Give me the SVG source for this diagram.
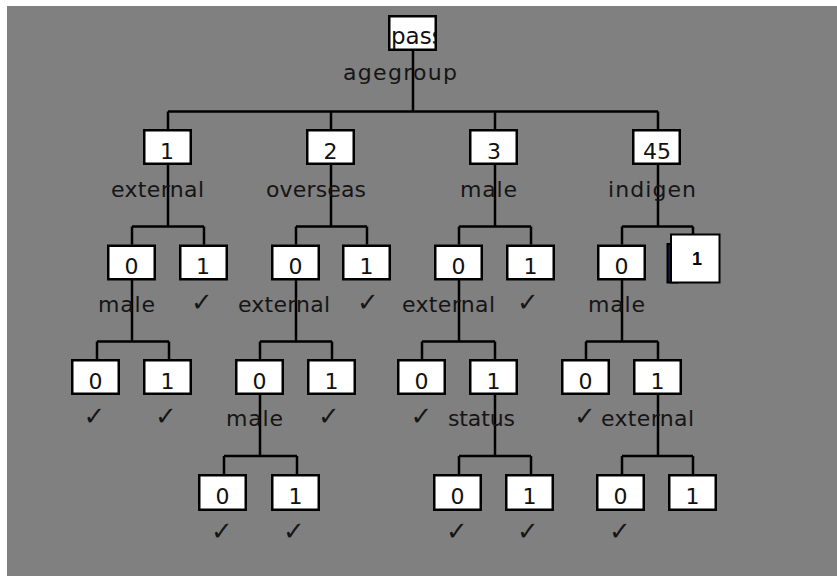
<svg xmlns="http://www.w3.org/2000/svg" width="837" height="576" viewBox="0 0 837 576">
<style>
.box{fill:#fff;stroke:#000;stroke-width:2.5}
.num{font-family:"DejaVu Sans",sans-serif;font-size:22px;fill:#111;text-anchor:middle}
.lbl{font-family:"DejaVu Sans",sans-serif;font-size:22px;fill:#151515}
.chk{font-family:"DejaVu Sans",sans-serif;font-size:26px;fill:#151515;text-anchor:middle}
.con{fill:none;stroke:#000;stroke-width:2.5}
</style>
<defs>
<clipPath id="rootclip"><rect x="389" y="16" width="46.5" height="33.5"/></clipPath>
</defs>
<rect width="837" height="576" fill="#fff"/>
<rect x="7" y="6" width="830" height="570" fill="#808080"/>
<g id="connectors" class="con">
<path d="M413 51V111.5M168 111.5H658M168 111.5V129M331 111.5V129M495 111.5V129M658 111.5V129"/>
<path d="M168 165V226.5M132 226.5H204M132 226.5V244.5M204 226.5V244.5"/>
<path d="M331 165V226.5M296 226.5H367M296 226.5V244.5M367 226.5V244.5"/>
<path d="M495 165V226.5M459 226.5H531M459 226.5V244.5M531 226.5V244.5"/>
<path d="M658 165V226.5M622 226.5H693M622 226.5V244.5M693 226.5V234"/>
<path d="M132 280V341.5M97 341.5H169M97 341.5V359M169 341.5V359"/>
<path d="M296 280V341.5M260 341.5H332M260 341.5V359M332 341.5V359"/>
<path d="M459 280V341.5M422 341.5H495M422 341.5V359M495 341.5V359"/>
<path d="M622 280V341.5M586 341.5H658M586 341.5V359M658 341.5V359"/>
<path d="M260 395V456M224 456H297M224 456V474M297 456V474"/>
<path d="M495 395V456M459 456H531M459 456V474M531 456V474"/>
<path d="M658 395V456M622 456H693M622 456V474M693 456V474"/>
</g>
<g id="n0"><rect class="box" x="389.25" y="16.25" width="46.5" height="33.5"/><text class="num" x="391" y="44" style="text-anchor:start;font-size:23px" clip-path="url(#rootclip)">pass</text><text class="lbl" x="343" y="80" textLength="114" lengthAdjust="spacing">agegroup</text></g>
<g id="n1"><rect class="box" x="144.25" y="130.25" width="46.5" height="33.5"/><text class="num" x="167" y="159">1</text><text class="lbl" x="111" y="197" textLength="93" lengthAdjust="spacing">external</text></g>
<g id="n2"><rect class="box" x="307.25" y="130.25" width="46.5" height="33.5"/><text class="num" x="330.5" y="159">2</text><text class="lbl" x="266" y="197" textLength="100" lengthAdjust="spacing">overseas</text></g>
<g id="n3"><rect class="box" x="470.25" y="130.25" width="46.5" height="33.5"/><text class="num" x="494" y="159">3</text><text class="lbl" x="460" y="197" textLength="57" lengthAdjust="spacing">male</text></g>
<g id="n4"><rect class="box" x="633.25" y="130.25" width="46.5" height="33.5"/><text class="num" x="657" y="159">45</text><text class="lbl" x="608" y="197" textLength="88" lengthAdjust="spacing">indigen</text></g>
<g id="n1_0"><rect class="box" x="108.25" y="245.75" width="46.5" height="33.5"/><text class="num" x="131.5" y="274">0</text><text class="lbl" x="98" y="312" textLength="57" lengthAdjust="spacing">male</text></g>
<g id="n1_1"><rect class="box" x="180.25" y="245.75" width="46.5" height="33.5"/><text class="num" x="203" y="274">1</text><text class="chk" x="202" y="311">✓</text></g>
<g id="n2_0"><rect class="box" x="272.25" y="245.75" width="46.5" height="33.5"/><text class="num" x="295.5" y="274">0</text><text class="lbl" x="238" y="312" textLength="92" lengthAdjust="spacing">external</text></g>
<g id="n2_1"><rect class="box" x="343.25" y="245.75" width="46.5" height="33.5"/><text class="num" x="366.5" y="274">1</text><text class="chk" x="368" y="311">✓</text></g>
<g id="n3_0"><rect class="box" x="435.25" y="245.75" width="46.5" height="33.5"/><text class="num" x="458.5" y="274">0</text><text class="lbl" x="402" y="312" textLength="93" lengthAdjust="spacing">external</text></g>
<g id="n3_1"><rect class="box" x="507.25" y="245.75" width="46.5" height="33.5"/><text class="num" x="530.5" y="274">1</text><text class="chk" x="528" y="311">✓</text></g>
<g id="n4_0"><rect class="box" x="598.25" y="245.75" width="46.5" height="33.5"/><text class="num" x="621.5" y="274">0</text><text class="lbl" x="588" y="312" textLength="57" lengthAdjust="spacing">male</text></g>
<g id="n4_1"><rect x="667.5" y="244" width="10" height="38.5" fill="#14145e" stroke="#000" stroke-width="2"/><rect x="671" y="234.5" width="48.5" height="48" fill="#fff" stroke="#000" stroke-width="2"/><text x="697" y="265" style="font-family:'Liberation Sans',Arial,sans-serif;font-size:18px;font-weight:bold;text-anchor:middle" fill="#000">1</text></g>
<g id="n1_0_0"><rect class="box" x="72.25" y="360.25" width="46.5" height="33.5"/><text class="num" x="95.5" y="388.5">0</text><text class="chk" x="94.5" y="425">✓</text></g>
<g id="n1_0_1"><rect class="box" x="144.25" y="360.25" width="46.5" height="33.5"/><text class="num" x="167.5" y="388.5">1</text><text class="chk" x="166" y="425">✓</text></g>
<g id="n2_0_0"><rect class="box" x="236.25" y="360.25" width="46.5" height="33.5"/><text class="num" x="259.5" y="388.5">0</text><text class="lbl" x="226" y="426" textLength="57" lengthAdjust="spacing">male</text></g>
<g id="n2_0_1"><rect class="box" x="308.25" y="360.25" width="46.5" height="33.5"/><text class="num" x="331.5" y="388.5">1</text><text class="chk" x="329" y="425">✓</text></g>
<g id="n3_0_0"><rect class="box" x="398.25" y="360.25" width="46.5" height="33.5"/><text class="num" x="421.5" y="388.5">0</text><text class="chk" x="421.5" y="425">✓</text></g>
<g id="n3_0_1"><rect class="box" x="470.25" y="360.25" width="46.5" height="33.5"/><text class="num" x="493.5" y="388.5">1</text><text class="lbl" x="448" y="426" textLength="67" lengthAdjust="spacing">status</text></g>
<g id="n4_0_0"><rect class="box" x="562.25" y="360.25" width="46.5" height="33.5"/><text class="num" x="585.5" y="388.5">0</text><text class="chk" x="585" y="425">✓</text></g>
<g id="n4_0_1"><rect class="box" x="634.25" y="360.25" width="46.5" height="33.5"/><text class="num" x="657.5" y="388.5">1</text><text class="lbl" x="601" y="426" textLength="93" lengthAdjust="spacing">external</text></g>
<g id="n2_0_0_0"><rect class="box" x="199.25" y="475.25" width="46.5" height="34.5"/><text class="num" x="222.5" y="503.5">0</text><text class="chk" x="222" y="540">✓</text></g>
<g id="n2_0_0_1"><rect class="box" x="272.25" y="475.25" width="46.5" height="34.5"/><text class="num" x="295.5" y="503.5">1</text><text class="chk" x="294" y="540">✓</text></g>
<g id="n3_0_1_0"><rect class="box" x="434.25" y="475.25" width="46.5" height="34.5"/><text class="num" x="457.5" y="503.5">0</text><text class="chk" x="457" y="540">✓</text></g>
<g id="n3_0_1_1"><rect class="box" x="506.25" y="475.25" width="46.5" height="34.5"/><text class="num" x="529.5" y="503.5">1</text><text class="chk" x="528" y="540">✓</text></g>
<g id="n4_0_1_0"><rect class="box" x="597.25" y="475.25" width="46.5" height="34.5"/><text class="num" x="620.5" y="503.5">0</text><text class="chk" x="620" y="540">✓</text></g>
<g id="n4_0_1_1"><rect class="box" x="669.25" y="475.25" width="46.5" height="34.5"/><text class="num" x="692.5" y="503.5">1</text></g>
</svg>
